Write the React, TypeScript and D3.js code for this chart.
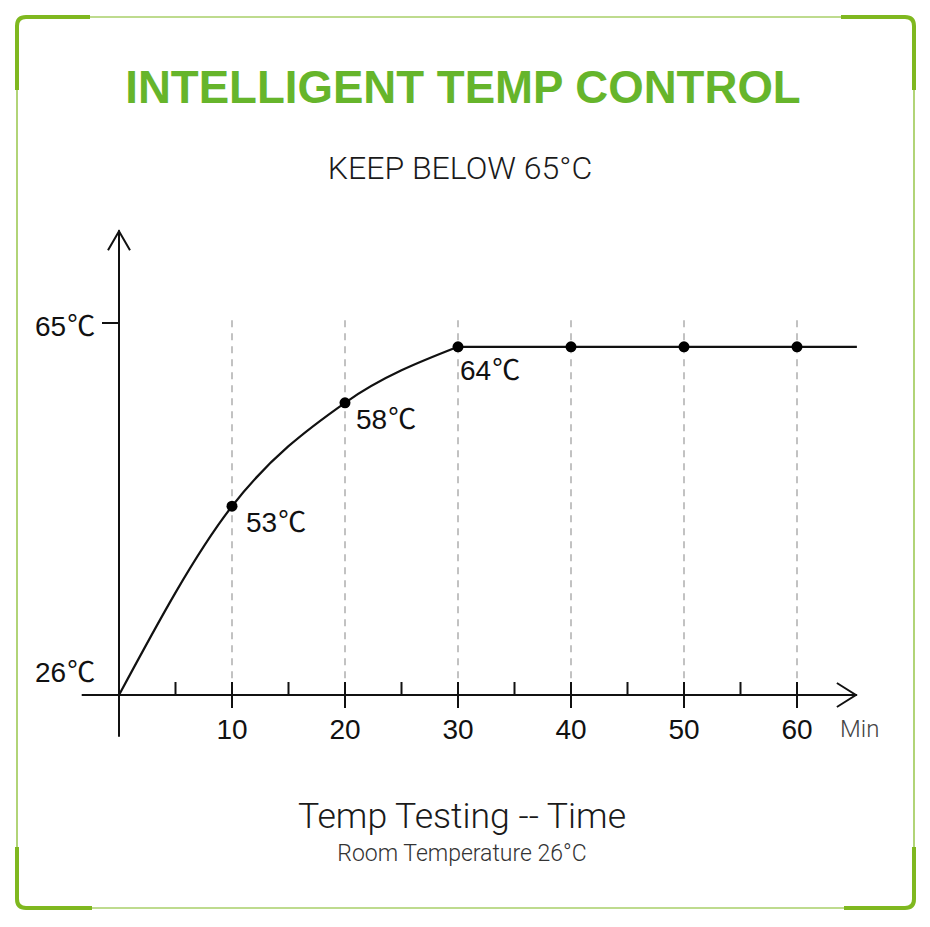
import React from "react";
import * as d3 from "d3";

// ---- data ----
const minutes = [0, 10, 20, 30, 40, 50, 60];
const plotLevel = [26, 45.9, 56.8, 62.7, 62.7, 62.7, 62.7];
const pointLabels = ["", "53", "58", "64", "", "", ""];
const majorTicks = [10, 20, 30, 40, 50, 60];
const minorTicks = [5, 15, 25, 35, 45, 55];
const yTickLabels = [
  { v: 26, label: "26", tick: false },
  { v: 65, label: "65", tick: true },
];
const degC = "℃";
const lineEndMin = 65.3;
const titleText = "INTELLIGENT TEMP CONTROL";
const subtitleText = "KEEP BELOW 65°C";
const footTitle = "Temp Testing -- Time";
const footSub = "Room Temperature 26°C";
const xUnit = "Min";

const W = 930;
const H = 927;
const GREEN = "#7fb81f";
const TITLE_GREEN = "#66b52b";
const NUM_FONT = "'Liberation Sans', Arial, 'Noto Sans CJK SC', sans-serif";
const CJK_FONT = "'Noto Sans CJK SC', 'Liberation Sans', sans-serif";
const LIGHT_FONT = "Roboto, 'Liberation Sans', sans-serif";

export default function App() {
  const x = d3.scaleLinear().domain([0, 60]).range([119, 797]);
  const y = d3.scaleLinear().domain([26, 65]).range([695, 325]);

  const pts = minutes.map((m, i) => [x(m), y(plotLevel[i])] as [number, number]);
  const curvePts = pts.slice(0, 4);
  const curvePath = d3.line().curve(d3.curveMonotoneX)(curvePts) as string;
  const flatPath = d3.line()([
    pts[3],
    [x(lineEndMin), y(plotLevel[6])],
  ]) as string;

  const x0 = x(0);
  const y0 = y(26);
  const yTop = y(75);
  const yBottom = y(21.6);
  const xLeft = x(-3.3);
  const xRight = x(lineEndMin);

  // frame
  const L = 17, T = 17, R = 914, B = 908, r = 9, arm = 73;
  const frameColor = GREEN;

  const degSpan = <tspan fontFamily={CJK_FONT} dx={1}>{degC}</tspan>;

  return (
    <svg
      width={W}
      height={H}
      style={{ position: "absolute", left: 0, top: 0, background: "#fff" }}
    >
      <rect x={0} y={0} width={W} height={H} fill="#fff" />
      {/* thin frame */}
      <rect x={L} y={T} width={R - L} height={B - T} rx={r} fill="none" stroke={frameColor} strokeWidth={1.2} />
      {/* thick corner brackets */}
      <g fill="none" stroke={frameColor} strokeWidth={4} strokeLinecap="butt">
        <path d={`M${L},${T + arm} L${L},${T + r} Q${L},${T} ${L + r},${T} L${L + arm},${T}`} />
        <path d={`M${R - arm},${T} L${R - r},${T} Q${R},${T} ${R},${T + r} L${R},${T + arm}`} />
        <path d={`M${L},${B - arm + 12} L${L},${B - r} Q${L},${B} ${L + r},${B} L${L + arm + 2},${B}`} />
        <path d={`M${R - arm + 3},${B} L${R - r},${B} Q${R},${B} ${R},${B - r} L${R},${B - arm + 12}`} />
      </g>

      {/* titles */}
      <text x={463} y={103} textAnchor="middle" fill={TITLE_GREEN} fontFamily={NUM_FONT} fontWeight={700} fontSize={45.6}>
        {titleText}
      </text>
      <text x={460} y={179} textAnchor="middle" fill="#1a1a1a" fontFamily={LIGHT_FONT} fontWeight={300} fontSize={32}>
        {subtitleText}
      </text>

      {/* dashed grid */}
      <g stroke="#b3b3b3" strokeWidth={1.6} strokeDasharray="7,6">
        {majorTicks.map((m) => (
          <line key={m} x1={x(m)} x2={x(m)} y1={y(65.5)} y2={y0 - 12} />
        ))}
      </g>

      {/* axes */}
      <g stroke="#111" strokeWidth={2} fill="none">
        <line x1={x0} x2={x0} y1={yTop} y2={yBottom} />
        <line x1={xLeft} x2={xRight} y1={y0} y2={y0} />
        <path d={`M${x0 - 11},${yTop + 20} L${x0},${yTop + 1} L${x0 + 11},${yTop + 20}`} />
        <path d={`M${xRight - 20},${y0 - 12} L${xRight - 1},${y0} L${xRight - 20},${y0 + 12}`} />
        {minorTicks.map((m) => (
          <line key={m} x1={x(m)} x2={x(m)} y1={y0 - 13} y2={y0} />
        ))}
        {majorTicks.map((m) => (
          <line key={m} x1={x(m)} x2={x(m)} y1={y0 - 13} y2={y0 + 13} />
        ))}
        {yTickLabels.filter((t) => t.tick).map((t) => (
          <line key={t.v} x1={x0 - 17} x2={x0} y1={y(t.v) - 2} y2={y(t.v) - 2} />
        ))}
      </g>

      {/* x tick labels */}
      <g fontFamily={NUM_FONT} fontSize={28} fill="#111" textAnchor="middle">
        {majorTicks.map((m) => (
          <text key={m} x={x(m)} y={739}>
            {m}
          </text>
        ))}
      </g>
      <text x={840} y={737} fontFamily={LIGHT_FONT} fontWeight={300} fontSize={24} fill="#444">
        {xUnit}
      </text>

      {/* y labels */}
      <g fontFamily={NUM_FONT} fontSize={28} fill="#111">
        {yTickLabels.map((t) => (
          <text key={t.v} x={35} y={y(t.v) + (t.tick ? 11 : -13)}>
            {t.label}
            {degSpan}
          </text>
        ))}
      </g>

      {/* curve */}
      <path d={curvePath} fill="none" stroke="#111" strokeWidth={2.2} />
      <path d={flatPath} fill="none" stroke="#111" strokeWidth={2.2} />

      {/* points */}
      {pts.slice(1).map((p, i) => (
        <circle key={i} cx={p[0]} cy={p[1]} r={5.5} fill="#000" />
      ))}
      <g fontFamily={NUM_FONT} fontSize={28} fill="#111">
        {pts.map((p, i) =>
          pointLabels[i] ? (
            <text key={i} x={p[0] + (i === 3 ? 2 : i === 2 ? 11 : 14)} y={p[1] + 26 + (i === 3 ? 7 : 0)}>
              {pointLabels[i]}
              {degSpan}
            </text>
          ) : null
        )}
      </g>

      {/* footer */}
      <text x={462} y={828} textAnchor="middle" fontFamily={LIGHT_FONT} fontWeight={300} fontSize={35.6} fill="#1a1a1a">
        {footTitle}
      </text>
      <text x={462} y={861} textAnchor="middle" fontFamily={LIGHT_FONT} fontWeight={300} fontSize={23} fill="#333">
        {footSub}
      </text>
    </svg>
  );
}
